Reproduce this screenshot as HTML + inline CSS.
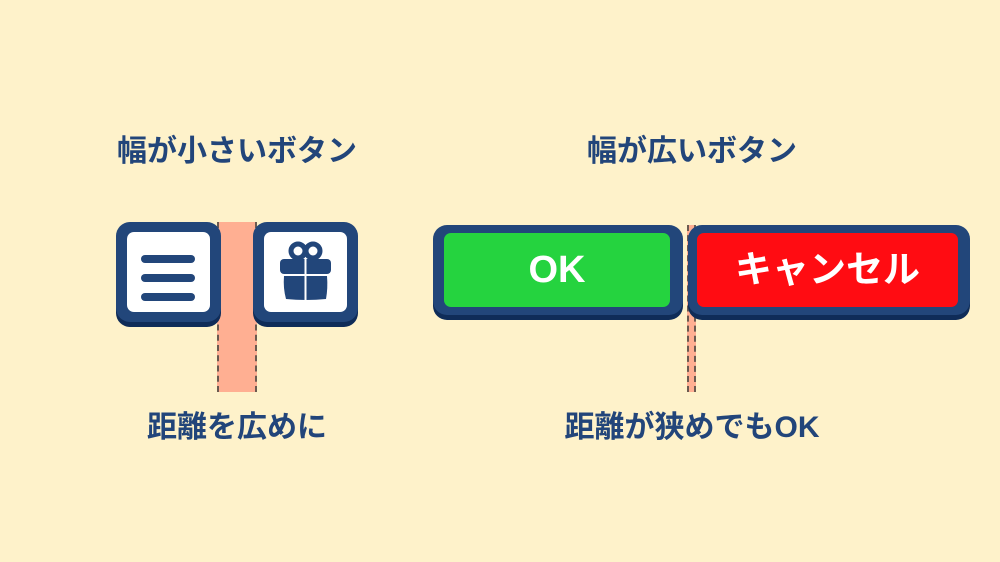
<!DOCTYPE html>
<html><head><meta charset="utf-8"><style>
body{margin:0;width:1000px;height:562px;background:#fef2ca;position:relative;overflow:hidden;font-family:"Liberation Sans","Noto Sans CJK JP",sans-serif;}
.t{position:absolute;color:#22457a;font-weight:bold;font-size:30px;text-align:center;width:400px;line-height:32px;}
.btn{position:absolute;background:#22467a;border-radius:14px;box-shadow:0 5px 0 #0f2c58;}
.in{position:absolute;border-radius:7px;}
.strip{position:absolute;background:#ffaf92;border-left:2px dashed #6b5a50;border-right:2px dashed #6b5a50;box-sizing:border-box;}
.bar{position:absolute;left:14px;width:54px;height:8px;border-radius:4px;background:#22467a;}
.lbl{position:absolute;color:#fff;font-weight:bold;text-align:center;width:100%;}
</style></head><body>
<div class="t" style="left:37px;top:136px">幅が小さいボタン</div>
<div class="t" style="left:492px;top:136px">幅が広いボタン</div>
<div class="t" style="left:37px;top:412px">距離を広めに</div>
<div class="t" style="left:492px;top:412px">距離が狭めでもOK</div>

<div class="strip" style="left:217px;top:222px;width:40px;height:170px"></div>
<div class="btn" style="left:116px;top:222px;width:105px;height:100px">
 <div class="in" style="left:11px;top:10px;width:83px;height:80px;background:#fff">
  <div class="bar" style="top:23px"></div><div class="bar" style="top:42px"></div><div class="bar" style="top:61px"></div>
 </div></div>
<div class="btn" style="left:253px;top:222px;width:105px;height:100px">
 <div class="in" style="left:11px;top:10px;width:83px;height:80px;background:#fff">
  <svg width="83" height="80" viewBox="0 0 83 80" style="position:absolute;left:0;top:0">
   <circle cx="34" cy="19" r="7" fill="none" stroke="#22467a" stroke-width="5"/>
   <circle cx="49" cy="19" r="7" fill="none" stroke="#22467a" stroke-width="5"/>
   <rect x="16" y="27" width="51" height="15" rx="4" fill="#22467a"/>
   <path d="M20 44 H63 Q64 56 62 67 Q42 69 22 67 Q19 56 20 44Z" fill="#22467a"/>
   <rect x="40.5" y="26" width="2" height="43" fill="#fff"/>
  </svg>
 </div></div>

<div class="strip" style="left:687px;top:225px;width:9px;height:167px"></div>
<div class="btn" style="left:433px;top:225px;width:250px;height:90px">
 <div class="in" style="left:11px;top:8px;width:226px;height:74px;background:#25d33f">
  <div class="lbl" style="top:16px;font-size:38px;line-height:42px">OK</div></div></div>
<div class="btn" style="left:688px;top:225px;width:282px;height:90px">
 <div class="in" style="left:9px;top:8px;width:261px;height:74px;background:#ff0c12">
  <div class="lbl" style="top:16px;font-size:37px;line-height:42px">キャンセル</div></div></div>
</body></html>
